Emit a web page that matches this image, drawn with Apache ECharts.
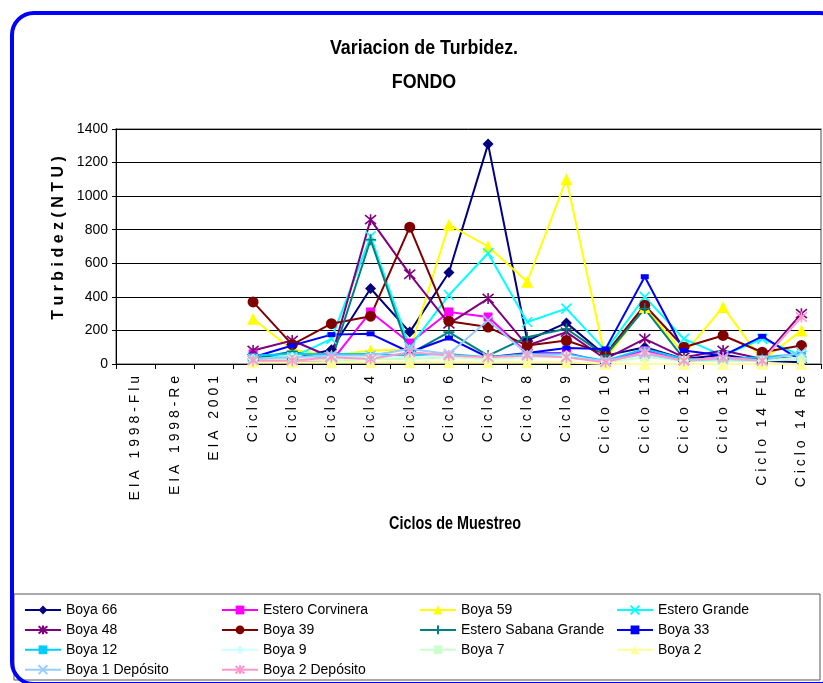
<!DOCTYPE html>
<html><head><meta charset="utf-8">
<script src="https://cdn.jsdelivr.net/npm/echarts@6/dist/echarts.min.js"></script>
<style>html,body{margin:0;padding:0;background:#fff}#c{width:823px;height:683px}</style>
</head><body><div id="c"></div>
<script>
const categories = ['EIA 1998-Flu','EIA 1998-Re','EIA 2001','Ciclo 1','Ciclo 2','Ciclo 3','Ciclo 4','Ciclo 5','Ciclo 6','Ciclo 7','Ciclo 8','Ciclo 9','Ciclo 10','Ciclo 11','Ciclo 12','Ciclo 13','Ciclo 14 FL','Ciclo 14 Re'];
const yTicks = [0,200,400,600,800,1000,1200,1400];
const N = null;
const boya66        = [N,N,N, 20, 30, 85, 450, 190, 545, 1310, 140, 245, 50, 100, 30, 55, 20, 10];
const esteroCorv    = [N,N,N, 60, 15, 15, 310, 125, 310, 280, 65, 65, 10, 80, 20, 40, 20, 40];
const boya59        = [N,N,N, 270, 85, 50, 80, 85, 830, 700, 490, 1100, 30, 340, 60, 340, 20, 200];
const esteroGrande  = [N,N,N, 40, 40, 150, 760, 100, 410, 660, 250, 330, 80, 400, 150, 50, 150, 50];
const boya48        = [N,N,N, 80, 140, 40, 860, 535, 240, 390, 110, 190, 30, 150, 40, 80, 30, 300];
const boya39        = [N,N,N, 370, 115, 240, 285, 815, 255, 220, 110, 140, 60, 350, 100, 170, 70, 110];
const esteroSabana  = [N,N,N, 30, 75, 20, 740, 60, 190, 50, 160, 210, 50, 330, 30, 30, 30, 40];
const boya33        = [N,N,N, 40, 110, 175, 180, 70, 155, 40, 65, 95, 90, 520, 80, 50, 165, 20];
const boya12        = [N,N,N, 50, 60, 60, 60, 50, 60, 40, 60, 60, 20, 90, 30, 30, 40, 60];
const boya9         = [N,N,N, 30, 40, 30, 40, 40, 50, 30, 50, 50, 10, 60, 20, 20, 20, 40];
const boya7         = [N,N,N, 20, 30, 20, 30, 30, 40, 30, 40, 40, 10, 40, 20, 20, 20, 30];
const boya2         = [N,N,N, 10, 10, 10, 10, 10, 10, 10, 10, 10, 0, 0, 0, 0, 0, 0];
const boya1Dep      = [N,N,N, 30, 40, 50, 50, 90, 60, 260, 60, 40, 20, 60, 20, 30, 20, 70];
const boya2Dep      = [N,N,N, 20, 20, 40, 30, 70, 50, 40, 50, 40, 10, 70, 20, 40, 20, 280];

const X = 'path://M0,0L10,10M10,0L0,10';
const STAR = 'path://M0,0L10,10M10,0L0,10M5,-1L5,11';
const PLUS = 'path://M5,0L5,10M0,5L10,5';
const SANS = "'Liberation Sans',Arial,sans-serif";

const defs = [
  ['Boya 66', boya66, '#000080', 'diamond', 11, false],
  ['Estero Corvinera', esteroCorv, '#FF00FF', 'rect', 9, false],
  ['Boya 59', boya59, '#FFFF00', 'triangle', 12, false],
  ['Estero Grande', esteroGrande, '#00FFFF', X, 10, true],
  ['Boya 48', boya48, '#800080', STAR, 11, true],
  ['Boya 39', boya39, '#800000', 'circle', 11, false],
  ['Estero Sabana Grande', esteroSabana, '#008080', PLUS, 11, true],
  ['Boya 33', boya33, '#0000FF', 'rect', [8,5], false],
  ['Boya 12', boya12, '#00CCFF', 'rect', [8,4], false],
  ['Boya 9', boya9, '#CCFFFF', 'diamond', 11, false],
  ['Boya 7', boya7, '#CCFFCC', 'rect', 9, false],
  ['Boya 2', boya2, '#FFFF99', 'triangle', 12, false],
  ['Boya 1 Depósito', boya1Dep, '#99CCFF', X, 10, true],
  ['Boya 2 Depósito', boya2Dep, '#FF99CC', STAR, 11, true]
];

const series = defs.map(d => ({
  name: d[0], type: 'line', data: d[1],
  symbol: d[3], symbolSize: d[4], showAllSymbol: true,
  lineStyle: {color: d[2], width: 2},
  itemStyle: {color: d[2], borderColor: d[2], borderWidth: d[5] ? 1.6 : 0},
  emphasis: {disabled: true}, animation: false
}));

const spaced = s => s.split('').join(' ');
const legendText = {fontFamily: SANS, fontSize: 14, color: '#000'};
const cols = [
  ['Boya 66','Boya 48','Boya 12','Boya 1 Depósito'],
  ['Estero Corvinera','Boya 39','Boya 9','Boya 2 Depósito'],
  ['Boya 59','Estero Sabana Grande','Boya 7'],
  ['Estero Grande','Boya 33','Boya 2']
];
const colLeft = [24, 221, 419, 616];
const legends = cols.map((c, i) => ({
  data: c, orient: 'vertical', left: colLeft[i], top: 603, itemWidth: 36, itemHeight: 11,
  itemGap: 5.9, textStyle: legendText, selectedMode: false, padding: 0
}));

const chart = echarts.init(document.getElementById('c'), null, {renderer: 'canvas'});
chart.setOption({
  backgroundColor: '#fff',
  animation: false,
  graphic: [
    {type: 'rect', shape: {x: 12, y: 13, width: 830, height: 671, r: 22}, style: {fill: 'none', stroke: '#0000FF', lineWidth: 4}, z: 100},
    {type: 'rect', shape: {x: 14, y: 594, width: 806, height: 86}, style: {fill: 'none', stroke: '#555', lineWidth: 1}, z: 1},
    {type: 'text', x: 424, y: 48, scaleX: 0.85, style: {text: 'Variacion de Turbidez.', font: "bold 21px " + SANS, fill: '#000', textAlign: 'center', textVerticalAlign: 'middle'}},
    {type: 'text', x: 424, y: 82, scaleX: 0.85, style: {text: 'FONDO', font: "bold 21px " + SANS, fill: '#000', textAlign: 'center', textVerticalAlign: 'middle'}},
    {type: 'text', x: 455, y: 524, scaleX: 0.8, style: {text: 'Ciclos de Muestreo', font: "bold 18px " + SANS, fill: '#000', textAlign: 'center', textVerticalAlign: 'middle'}},
    {type: 'text', x: 59, y: 238, rotation: Math.PI / 2, style: {text: spaced('Turbidez(NTU)'), font: "bold 16px " + SANS, fill: '#000', textAlign: 'center', textVerticalAlign: 'middle'}}
  ],
  legend: legends,
  grid: {left: 116, right: 2, top: 129, bottom: 319, show: true, borderColor: '#888', borderWidth: 1.5},
  xAxis: {
    type: 'category', data: categories, boundaryGap: true,
    axisLine: {lineStyle: {color: '#000', width: 1}},
    axisTick: {show: true, interval: 0, length: 5, lineStyle: {color: '#000'}},
    axisLabel: {interval: 0, rotate: 90, margin: 12, fontFamily: SANS, fontSize: 14, color: '#000', formatter: v => spaced(v)}
  },
  yAxis: {
    type: 'value', min: 0, max: 1400, interval: 200,
    axisLine: {show: true, lineStyle: {color: '#000', width: 1}},
    axisTick: {show: true, length: 4, lineStyle: {color: '#000'}},
    axisLabel: {margin: 8, fontFamily: SANS, fontSize: 14, color: '#000', customValues: yTicks, formatter: v => String(v)},
    splitLine: {show: true, lineStyle: {color: '#000', width: 1}}
  },
  series: series
});
</script></body></html>
